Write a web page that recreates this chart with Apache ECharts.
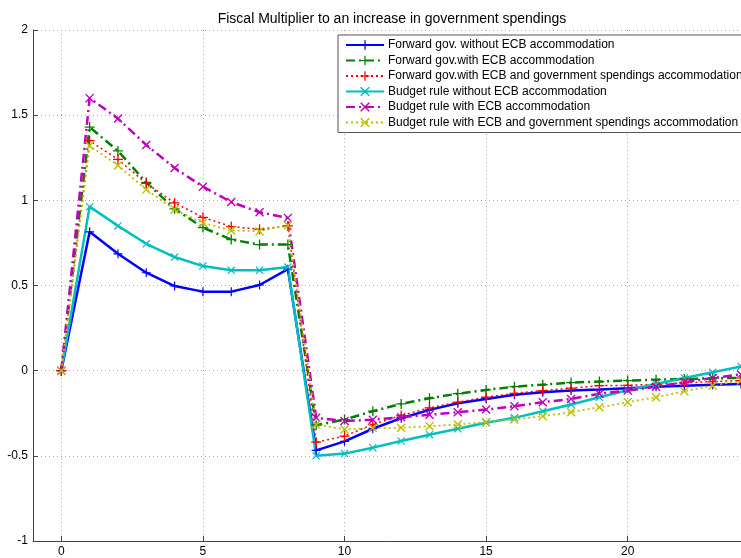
<!DOCTYPE html>
<html>
<head>
<meta charset="utf-8">
<script src="https://cdn.jsdelivr.net/npm/echarts@6/dist/echarts.min.js"></script>
<style>html,body{margin:0;padding:0;background:#fff}#c{width:741px;height:558px}</style>
</head>
<body>
<div id="c"></div>
<script>
var titleText = 'Fiscal Multiplier to an increase in government spendings';
var periods = [0,1,2,3,4,5,6,7,8,9,10,11,12,13,14,15,16,17,18,19,20,21,22,23,24];
var xTicks = [0,5,10,15,20];
var seriesNames = [
  'Forward gov. without ECB accommodation',
  'Forward gov.with ECB accommodation',
  'Forward gov.with ECB and government spendings accommodation',
  'Budget rule without ECB accommodation',
  'Budget rule with ECB accommodation',
  'Budget rule with ECB and government spendings accommodation'
];
var fwdNoECB = [0,0.815,0.686,0.575,0.497,0.464,0.464,0.503,0.596,-0.468,-0.415,-0.341,-0.279,-0.230,-0.191,-0.166,-0.142,-0.127,-0.117,-0.111,-0.103,-0.094,-0.088,-0.082,-0.078];
var fwdECB = [0,1.43,1.29,1.105,0.95,0.84,0.77,0.74,0.74,-0.32,-0.287,-0.238,-0.195,-0.162,-0.135,-0.113,-0.094,-0.082,-0.070,-0.064,-0.058,-0.053,-0.049,-0.045,-0.042];
var fwdECBGov = [0,1.35,1.24,1.10,0.985,0.90,0.846,0.83,0.85,-0.42,-0.384,-0.316,-0.263,-0.218,-0.185,-0.156,-0.133,-0.117,-0.103,-0.088,-0.086,-0.080,-0.072,-0.064,-0.058];
var budNoECB = [0,0.963,0.85,0.745,0.667,0.614,0.589,0.589,0.608,-0.50,-0.487,-0.452,-0.413,-0.376,-0.341,-0.306,-0.277,-0.238,-0.199,-0.156,-0.115,-0.078,-0.043,-0.009,0.025];
var budECB = [0,1.60,1.48,1.325,1.19,1.08,0.99,0.93,0.897,-0.277,-0.296,-0.288,-0.273,-0.259,-0.244,-0.228,-0.209,-0.185,-0.166,-0.136,-0.117,-0.094,-0.068,-0.043,-0.022];
var budECBGov = [0,1.32,1.205,1.063,0.946,0.867,0.823,0.819,0.854,-0.316,-0.345,-0.337,-0.335,-0.326,-0.316,-0.302,-0.286,-0.267,-0.244,-0.215,-0.185,-0.156,-0.121,-0.088,-0.058];

var plus = 'path://M-1,-0.13H1V0.13H-1Z M-0.13,-1H0.13V1H-0.13Z';
var cross = 'path://M-0.84,-0.66L-0.66,-0.84L0.84,0.66L0.66,0.84Z M0.66,-0.84L0.84,-0.66L-0.66,0.84L-0.84,0.66Z';

function pairs(arr){ return periods.map(function(p,i){ return [p, arr[i]]; }); }
function mk(name, data, color, type, width, sym, symSize){
  return {
    name: name, type: 'line', data: pairs(data),
    symbol: sym, symbolSize: symSize, showSymbol: true,
    lineStyle: {color: color, width: width, type: type},
    itemStyle: {color: color},
    animation: false, clip: false
  };
}
var dashDot = [9,4,2,4];
var dotted = [2,3];
var chart = echarts.init(document.getElementById('c'), null, {renderer:'canvas'});
chart.setOption({
  animation: false,
  backgroundColor: '#fff',
  title: {text: titleText, left: 387, textAlign: 'center', top: 7,
    textStyle: {fontFamily: 'Liberation Sans', fontSize: 14, fontWeight: 'normal', color: '#000'}},
  grid: {left: 33, top: 30, right: -10, bottom: 17, containLabel: false},
  legend: {
    orient: 'vertical', left: 338, top: 35, itemWidth: 38, itemHeight: 12, itemGap: 3.5,
    padding: [4, 12, 4, 7], backgroundColor: '#fff', borderColor: '#555', borderWidth: 1,
    textStyle: {fontFamily: 'Liberation Sans', fontSize: 12, color: '#000', padding: [0,0,0,-1]},
    data: seriesNames
  },
  xAxis: {
    type: 'value', min: -1, max: 24,
    axisLine: {show: true, onZero: false, lineStyle: {color: '#444', width: 1}},
    axisTick: {show: true, inside: true, length: 5, customValues: xTicks, lineStyle: {color: '#444'}},
    axisLabel: {customValues: xTicks, fontFamily: 'Liberation Sans', fontSize: 12, color: '#000', margin: 5},
    splitLine: {show: true, lineStyle: {color: '#aaa', type: [1,3], width: 1}}
  },
  yAxis: {
    type: 'value', min: -1, max: 2, interval: 0.5,
    axisLine: {show: true, onZero: false, lineStyle: {color: '#444', width: 1}},
    axisTick: {show: true, inside: true, length: 5, lineStyle: {color: '#444'}},
    axisLabel: {fontFamily: 'Liberation Sans', fontSize: 12, color: '#000', margin: 5},
    splitLine: {show: true, lineStyle: {color: '#aaa', type: [1,3], width: 1}}
  },
  series: [
    mk(seriesNames[0], fwdNoECB, '#0000ff', 'solid', 2.5, plus, 9),
    mk(seriesNames[1], fwdECB, '#008000', dashDot, 2.5, plus, 10),
    mk(seriesNames[2], fwdECBGov, '#ff0000', dotted, 1.5, plus, 10),
    mk(seriesNames[3], budNoECB, '#00bfbf', 'solid', 2.5, cross, 8),
    mk(seriesNames[4], budECB, '#bf00bf', dashDot, 2.5, cross, 9),
    mk(seriesNames[5], budECBGov, '#bfbf00', dotted, 1.8, cross, 9)
  ]
});
</script>
</body>
</html>
